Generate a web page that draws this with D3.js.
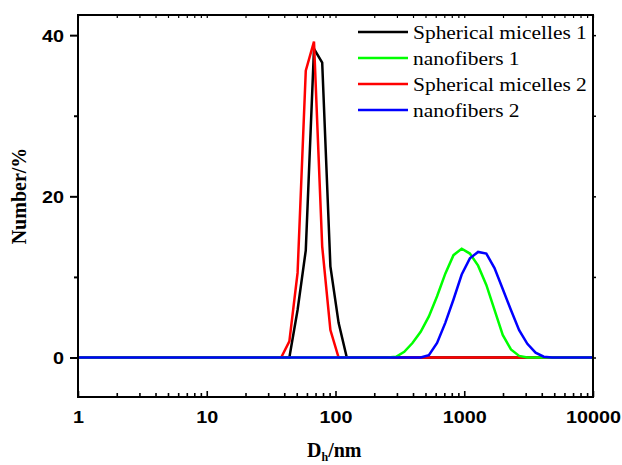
<!DOCTYPE html>
<html lang="en">
  <head>
    <meta charset="UTF-8" />
    <title>DLS</title>
    <script src="https://cdnjs.cloudflare.com/ajax/libs/d3/7.8.5/d3.min.js"></script>
    <style>
      html,
      body {
        margin: 0;
        padding: 0;
        background: #fff;
      }
      svg {
        display: block;
      }
    </style>
  </head>
  <body>
    <svg width="622" height="465"></svg>
    <script>
      // Malvern size bins (nm)
      const sizes = [
        0.9649, 1.117, 1.294, 1.499, 1.736, 2.01, 2.328, 2.696, 3.122, 3.615, 4.187, 4.849, 5.615, 6.503, 7.531, 8.721,
        10.1, 11.7, 13.54, 15.69, 18.17, 21.04, 24.36, 28.21, 32.67, 37.84, 43.82, 50.75, 58.77, 68.06, 78.82, 91.28,
        105.7, 122.4, 141.8, 164.2, 190.1, 220.2, 255.0, 295.3, 342.0, 396.1, 458.7, 531.2, 615.1, 712.4, 825.0, 955.4,
        1106, 1281, 1484, 1718, 1990, 2305, 2669, 3091, 3580, 4145, 4801, 5560, 6439, 7456, 8635, 10000
      ];

      const micelles1 = [
        0, 0, 0, 0, 0, 0, 0, 0, 0, 0, 0, 0, 0, 0, 0, 0,
        0, 0, 0, 0, 0, 0, 0, 0, 0, 0, 0, 5.9, 13.3, 38.3, 36.6, 11.3,
        4.3, 0, 0, 0, 0, 0, 0, 0, 0, 0, 0, 0, 0, 0, 0, 0,
        0, 0, 0, 0, 0, 0, 0, 0, 0, 0, 0, 0, 0, 0, 0, 0
      ];
      const micelles2 = [
        0, 0, 0, 0, 0, 0, 0, 0, 0, 0, 0, 0, 0, 0, 0, 0,
        0, 0, 0, 0, 0, 0, 0, 0, 0, 0, 2.0, 10.5, 35.6, 39.2, 13.8, 3.4,
        0, 0, 0, 0, 0, 0, 0, 0, 0, 0, 0, 0, 0, 0, 0, 0,
        0, 0, 0, 0, 0, 0, 0, 0, 0, 0, 0, 0, 0, 0, 0, 0
      ];
      const fibers1 = [
        0, 0, 0, 0, 0, 0, 0, 0, 0, 0, 0, 0, 0, 0, 0, 0,
        0, 0, 0, 0, 0, 0, 0, 0, 0, 0, 0, 0, 0, 0, 0, 0,
        0, 0, 0, 0, 0, 0, 0, 0.1, 0.7, 1.8, 3.2, 5.1, 7.6, 10.4, 12.7, 13.5,
        12.9, 11.4, 9.0, 5.9, 2.8, 1.0, 0.2, 0, 0, 0, 0, 0, 0, 0, 0, 0
      ];
      const fibers2 = [
        0, 0, 0, 0, 0, 0, 0, 0, 0, 0, 0, 0, 0, 0, 0, 0,
        0, 0, 0, 0, 0, 0, 0, 0, 0, 0, 0, 0, 0, 0, 0, 0,
        0, 0, 0, 0, 0, 0, 0, 0, 0, 0, 0, 0.3, 1.8, 4.3, 7.2, 10.3,
        12.3, 13.1, 12.9, 11.1, 8.5, 5.9, 3.4, 1.7, 0.6, 0.1, 0, 0, 0, 0, 0, 0
      ];

      const legendNames = ['Spherical micelles 1', 'nanofibers 1', 'Spherical micelles 2', 'nanofibers 2'];
      const xTickLabels = [1, 10, 100, 1000, 10000];
      const yTickLabels = [0, 20, 40];
      const yMinorTicks = [10, 30];

      // legend order vs drawing order (blue ends up on top)
      const series = [
        { name: legendNames[0], values: micelles1, color: '#000000' },
        { name: legendNames[1], values: fibers1, color: '#00ff00' },
        { name: legendNames[2], values: micelles2, color: '#ff0000' },
        { name: legendNames[3], values: fibers2, color: '#0000ff' }
      ];
      const drawOrder = [0, 2, 1, 3];

      const m = { left: 78, right: 593, top: 15, bottom: 397 };

      const svg = d3.select('svg');

      const x = d3.scaleLog().domain([1, 10000]).range([m.left, m.right]);
      const y = d3.scaleLinear().domain([-4.9, 42.5]).range([m.bottom, m.top]);

      // every 1..9 per decade for the minor ticks
      const logTicks = [];
      xTickLabels.forEach(function(d, i) {
        if (i === xTickLabels.length - 1) {
          logTicks.push(d);
          return;
        }
        for (let k = 1; k < 10; k++) logTicks.push(d * k);
      });

      svg
        .append('clipPath')
        .attr('id', 'plot')
        .append('rect')
        .attr('x', m.left)
        .attr('y', m.top)
        .attr('width', m.right - m.left)
        .attr('height', m.bottom - m.top);

      const line = d3
        .line()
        .x(function(d) {
          return x(d[0]);
        })
        .y(function(d) {
          return y(d[1]);
        });

      svg
        .append('g')
        .attr('clip-path', 'url(#plot)')
        .selectAll('path')
        .data(drawOrder)
        .enter()
        .append('path')
        .attr('fill', 'none')
        .attr('stroke', function(i) {
          return series[i].color;
        })
        .attr('stroke-width', 2.5)
        .attr('d', function(i) {
          return line(
            sizes.map(function(s, j) {
              return [s, series[i].values[j]];
            })
          );
        });

      // bottom axis, ticks point inward
      const xAxis = d3
        .axisBottom(x)
        .tickValues(logTicks)
        .tickSize(-4)
        .tickFormat(function(d) {
          return xTickLabels.indexOf(d) >= 0 ? d : '';
        });

      const xg = svg
        .append('g')
        .attr('transform', 'translate(0,' + m.bottom + ')')
        .call(xAxis);
      xg.select('.domain').remove();
      xg.selectAll('.tick line')
        .attr('stroke-width', 1.6)
        .attr('y2', function(d) {
          return xTickLabels.indexOf(d) >= 0 ? -6 : -4;
        });
      xg.selectAll('.tick text')
        .attr('y', 0)
        .attr('dy', 0)
        .attr('transform', 'translate(0,26) scale(1.2,1)')
        .style('font-family', 'Liberation Sans, Arial, sans-serif')
        .style('font-weight', 'bold')
        .style('font-size', '16.5px')
        .attr('fill', '#000');

      // top axis, small ticks inward
      const xgTop = svg
        .append('g')
        .attr('transform', 'translate(0,' + m.top + ')')
        .call(d3.axisTop(x).tickValues(logTicks).tickSize(-3).tickFormat(''));
      xgTop.select('.domain').remove();
      xgTop.selectAll('.tick line').attr('stroke-width', 1.2);

      // left axis, ticks outward
      const yAxis = d3
        .axisLeft(y)
        .tickValues(yTickLabels.concat(yMinorTicks))
        .tickSize(8)
        .tickFormat(function(d) {
          return yTickLabels.indexOf(d) >= 0 ? d : '';
        });
      const yg = svg
        .append('g')
        .attr('transform', 'translate(' + m.left + ',0)')
        .call(yAxis);
      yg.select('.domain').remove();
      yg.selectAll('.tick line')
        .attr('stroke-width', 2)
        .attr('x2', function(d) {
          return yTickLabels.indexOf(d) >= 0 ? -8 : -4;
        });
      yg.selectAll('.tick text')
        .attr('x', 0)
        .attr('dy', 0)
        .attr('transform', 'translate(-14,6) scale(1.2,1)')
        .style('font-family', 'Liberation Sans, Arial, sans-serif')
        .style('font-weight', 'bold')
        .style('font-size', '16.5px')
        .attr('fill', '#000');

      // right axis, ticks outward
      const ygRight = svg
        .append('g')
        .attr('transform', 'translate(' + m.right + ',0)')
        .call(
          d3
            .axisRight(y)
            .tickValues(yTickLabels.concat(yMinorTicks))
            .tickSize(3)
            .tickFormat('')
        );
      ygRight.select('.domain').remove();
      ygRight.selectAll('.tick line').attr('stroke-width', 1.5);

      // frame
      svg
        .append('rect')
        .attr('x', m.left)
        .attr('y', m.top)
        .attr('width', m.right - m.left)
        .attr('height', m.bottom - m.top)
        .attr('fill', 'none')
        .attr('stroke', '#000')
        .attr('stroke-width', 2);

      // axis titles
      const xTitle = svg
        .append('text')
        .attr('x', 307)
        .attr('y', 457)
        .style('font-family', 'Liberation Serif, Times New Roman, serif')
        .style('font-weight', 'bold')
        .style('font-size', '20px');
      xTitle.append('tspan').text('D');
      xTitle
        .append('tspan')
        .attr('dy', 4)
        .style('font-size', '12px')
        .text('h');
      xTitle
        .append('tspan')
        .attr('dy', -4)
        .text('/nm');

      svg
        .append('text')
        .attr('transform', 'translate(26,196) rotate(-90)')
        .attr('text-anchor', 'middle')
        .style('font-family', 'Liberation Serif, Times New Roman, serif')
        .style('font-weight', 'bold')
        .style('font-size', '20px')
        .text('Number/%');

      // legend
      const legend = svg
        .append('g')
        .selectAll('g')
        .data(series)
        .enter()
        .append('g')
        .attr('transform', function(d, i) {
          return 'translate(358,' + (32 + i * 26) + ')';
        });
      legend
        .append('line')
        .attr('x1', 0)
        .attr('x2', 50)
        .attr('stroke', function(d) {
          return d.color;
        })
        .attr('stroke-width', 2.5);
      legend
        .append('text')
        .attr('transform', 'translate(55,6.5) scale(1.1,1)')
        .style('font-family', 'Liberation Serif, Times New Roman, serif')
        .style('font-size', '19.5px')
        .text(function(d) {
          return d.name;
        });
    </script>
  </body>
</html>
